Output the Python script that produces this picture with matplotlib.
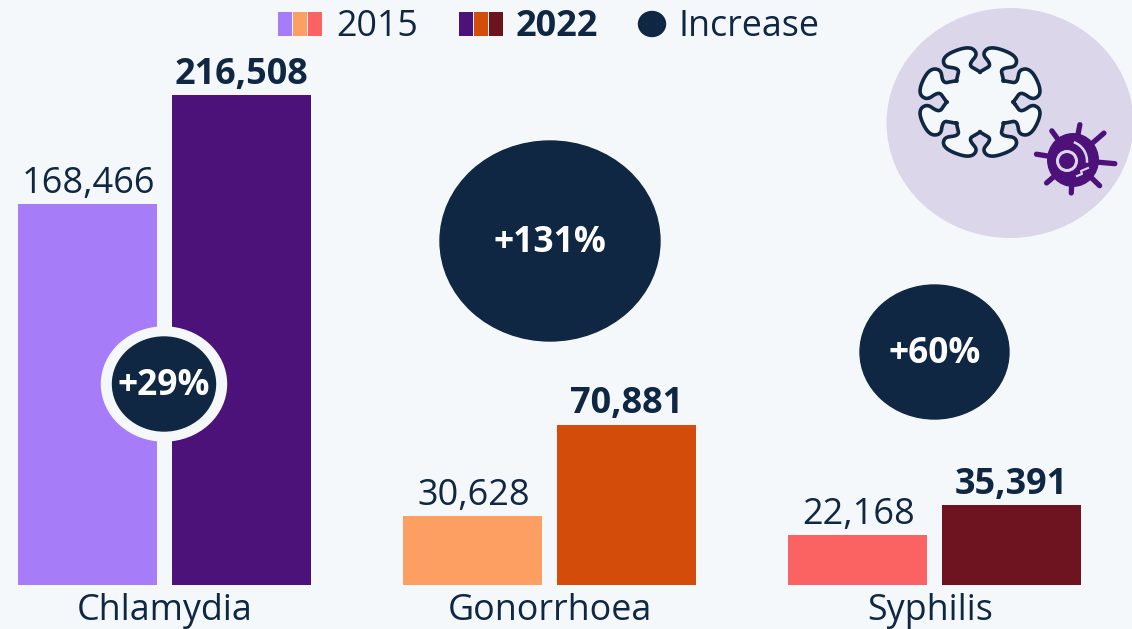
import numpy as np
import matplotlib.pyplot as plt
from matplotlib.patches import Ellipse, Rectangle, Arc, Polygon

plt.rcParams['font.family'] = ['Open Sans', 'DejaVu Sans']

categories = ['Chlamydia', 'Gonorrhoea', 'Syphilis']
values_2015 = [168466, 30628, 22168]
values_2022 = [216508, 70881, 35391]
increases = ['+29%', '+131%', '+60%']
colors_2015 = ['#a67cf8', '#fd9f63', '#fb6262']
colors_2022 = ['#4c1279', '#d44c0a', '#6e1420']

BG = '#f5f8fb'
NAVY = '#0f2742'
DISC = '#dcd6ea'
PURPLE = '#4c1279'

fig = plt.figure(figsize=(11.32, 6.29), dpi=100, facecolor=BG)

# bars: x in pixels, y in case counts (baseline at pixel 585)
ax = fig.add_axes([0, 0, 1, 1])
per_px = 216508 / 490
ax.set_xlim(0, 1132)
ax.set_ylim(-(629 - 585) * per_px, 585 * per_px)
ax.axis('off')

centers = [164.5, 549.5, 934.5]
label_shift = [0, 0, -4]
for i, c in enumerate(centers):
    ax.bar(c - 77, values_2015[i], width=139, color=colors_2015[i])
    ax.bar(c + 77, values_2022[i], width=139, color=colors_2022[i])
    ax.annotate(f'{values_2015[i]:,}', (c - 77, values_2015[i]), xytext=(1, 1.5), textcoords='offset points',
                ha='center', va='bottom', fontsize=26, color=NAVY)
    ax.annotate(f'{values_2022[i]:,}', (c + 77, values_2022[i]), xytext=(0, 1.5), textcoords='offset points',
                ha='center', va='bottom', fontsize=25.9, color=NAVY, fontweight='bold')
    ax.annotate(categories[i], (c + label_shift[i], 0), xytext=(0, -18.5), textcoords='offset points',
                ha='center', va='center', fontsize=25.8, color=NAVY)

# overlay in pixel coordinates
ov = fig.add_axes([0, 0, 1, 1])
ov.set_xlim(0, 1132)
ov.set_ylim(629, 0)
ov.axis('off')
ov.patch.set_alpha(0)

# increase bubbles
ov.add_patch(Ellipse((164, 384), 125, 114, color=BG))
bubbles = [(164, 384, 103, 94), (550, 241, 220, 200), (934.5, 352, 149, 134)]
for (bx, by, bw, bh), label in zip(bubbles, increases):
    ov.add_patch(Ellipse((bx, by), bw, bh, color=NAVY))
    ov.text(bx, by + 2, label, ha='center', va='center', fontsize=25.5, fontweight='bold', color='white')

# legend
for x, col in zip([278, 293, 308], colors_2015):
    ov.add_patch(Rectangle((x, 12), 14, 24, color=col, lw=0))
for x, col in zip([459, 474, 489], colors_2022):
    ov.add_patch(Rectangle((x, 12), 14, 24, color=col, lw=0))
ov.add_patch(Ellipse((652, 24), 27, 25, color=NAVY))
ov.text(336, 27, '2015', ha='left', va='center', fontsize=25.8, color=NAVY)
ov.text(516, 27, '2022', ha='left', va='center', fontsize=26, fontweight='bold', color=NAVY)
ov.text(679, 27, 'Increase', ha='left', va='center', fontsize=25.8, color=NAVY)

# icon
ov.add_patch(Ellipse((1010, 123), 247, 230, color=DISC, lw=0))

# big virus outline: one lobe turned 8 times, rounded by corner cutting
lobe = [(29, -13), (35, -9), (39, -6), (43, -8), (48, -17), (56, -16), (60, -8), (60, 8), (56, 16),
        (48, 17), (43, 8), (39, 6), (35, 9), (29, 13)]
outline = []
for k in range(8):
    a = np.radians(22.5 + 45 * k)
    for lx, ly in lobe:
        outline.append((lx * np.cos(a) - ly * np.sin(a), lx * np.sin(a) + ly * np.cos(a)))
outline = np.array(outline)
for _ in range(3):
    nxt = np.roll(outline, -1, axis=0)
    outline = np.vstack([0.75 * outline + 0.25 * nxt, 0.25 * outline + 0.75 * nxt])[
        np.arange(2 * len(outline)).reshape(2, -1).T.ravel()]
outline = outline * [1.03, 0.93] + [980, 102]
ov.add_patch(Polygon(outline, closed=True, fc=BG, ec='none', zorder=3))
# outline has a small opening beside the upper right lobe
gap = (outline[:, 0] > 1022) & (outline[:, 0] < 1037) & (outline[:, 1] > 82) & (outline[:, 1] < 92)
line = np.vstack([outline, outline[:1]])
line_y = line[:, 1].copy()
line_y[:-1][gap] = np.nan
ov.plot(line[:, 0], line_y, color=NAVY, lw=2.6, zorder=3)

# small virus
sx, sy = 1073, 160
spike_ang = [-79, -41, 5, 44, 93, 139, 189, 234]
spike_len = [36, 41, 42, 37, 33, 35, 37, 36]
for d, r in zip(spike_ang, spike_len):
    a = np.radians(d)
    ov.plot([sx, sx + r * np.cos(a)], [sy, sy + r * np.sin(a)], color=PURPLE, lw=3.8,
            solid_capstyle='round', zorder=4)
ov.add_patch(Ellipse((sx, sy), 52, 54, color=PURPLE, lw=0, zorder=4))
ov.add_patch(Ellipse((1067, 161), 19, 19, fc='none', ec=DISC, lw=2.2, zorder=5))
ov.add_patch(Arc((1067, 161), 40, 40, theta1=-70, theta2=5, color=DISC, lw=1.8, zorder=5))
ov.plot([1077, 1082, 1081, 1088], [176, 174, 171, 168], color=DISC, lw=1.5, zorder=5)

fig.savefig('out.png', dpi=100, facecolor=BG)
